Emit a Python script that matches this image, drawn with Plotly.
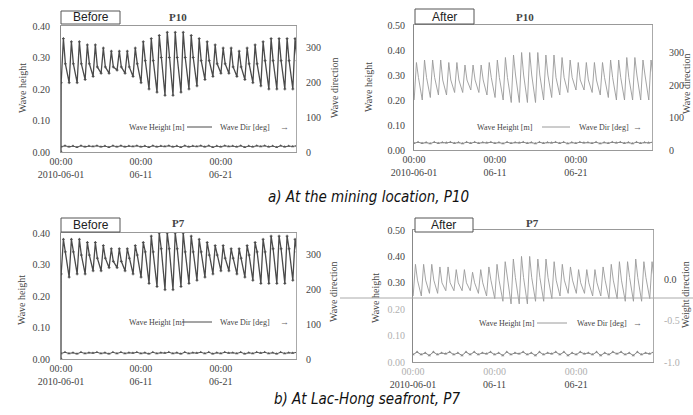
import plotly.graph_objects as go
import pandas as pd

W, H = 693, 415
def fx(x): return x / W
def fy(y): return 1 - y / H

# ---------------- data ----------------
tick_dates = ["2010-06-01", "2010-06-11", "2010-06-21"]
tick_text = ["00:00<br>2010-06-01", "00:00<br>06-11", "00:00<br>06-21"]

# P10 before (daily peak / secondary plateau / trough of wave height, m)
p10b_peak = [0.36,0.35,0.35,0.34,0.34,0.33,0.32,0.32,0.32,0.33,0.35,0.36,0.37,0.38,0.38,
             0.38,0.37,0.36,0.35,0.34,0.33,0.33,0.32,0.33,0.34,0.35,0.36,0.36,0.36,0.36]
p10b_plat = [0.28,0.28,0.28,0.28,0.27,0.27,0.27,0.27,0.27,0.28,0.29,0.29,0.30,0.30,0.30,
             0.30,0.30,0.29,0.29,0.28,0.28,0.27,0.27,0.28,0.28,0.29,0.29,0.29,0.29,0.29]
p10b_trough = [0.22,0.22,0.22,0.23,0.24,0.25,0.25,0.26,0.25,0.24,0.22,0.20,0.19,0.18,0.18,
               0.19,0.20,0.21,0.23,0.24,0.25,0.25,0.24,0.23,0.22,0.21,0.20,0.20,0.20,0.20,0.21]
p10b_dir = [15,18,15,17,14,18,15,17,16,18,15,17,14,18,15,18,15,17,16,18,15,17,14,18,15,17,16,18,15,17,
            14,18,15,17,16,18,15,18,14,17,15,18,16,17,15,18,14,17,15,18,16,18,15,17,14,18,15,17,16,18,15]

# P10 after
p10a_peak = [0.35,0.36,0.36,0.36,0.35,0.35,0.34,0.34,0.34,0.35,0.36,0.37,0.38,0.39,0.39,
             0.39,0.38,0.38,0.37,0.36,0.35,0.35,0.35,0.35,0.36,0.36,0.37,0.37,0.36,0.36]
p10a_plat = [0.29,0.29,0.29,0.28,0.28,0.28,0.28,0.28,0.28,0.29,0.29,0.29,0.30,0.30,0.30,
             0.30,0.30,0.29,0.29,0.29,0.28,0.28,0.28,0.29,0.29,0.29,0.29,0.30,0.30,0.29]
p10a_trough = [0.20,0.20,0.21,0.22,0.22,0.23,0.23,0.24,0.23,0.22,0.21,0.20,0.19,0.19,0.19,
               0.19,0.20,0.21,0.22,0.23,0.24,0.24,0.23,0.22,0.21,0.20,0.20,0.20,0.20,0.20,0.20]
p10a_dir = [21,24,21,23,20,24,21,23,22,24,21,23,20,24,21,24,21,23,22,24,21,23,20,24,21,23,22,24,21,23,
            20,24,21,23,22,24,21,24,20,23,21,24,22,23,21,24,20,23,21,24,22,24,21,23,20,24,21,23,22,24,21]

# P7 before
p7b_peak = [0.38,0.38,0.38,0.37,0.37,0.36,0.35,0.35,0.35,0.36,0.37,0.39,0.40,0.40,0.40,
            0.40,0.39,0.38,0.37,0.36,0.36,0.35,0.35,0.36,0.37,0.38,0.39,0.39,0.39,0.38]
p7b_plat = [0.34,0.34,0.33,0.33,0.32,0.32,0.31,0.31,0.32,0.33,0.34,0.34,0.35,0.35,0.35,
            0.34,0.34,0.34,0.33,0.33,0.32,0.32,0.32,0.33,0.34,0.34,0.35,0.35,0.35,0.34]
p7b_trough = [0.27,0.26,0.27,0.27,0.28,0.28,0.29,0.29,0.28,0.27,0.26,0.24,0.23,0.22,0.22,
              0.23,0.24,0.25,0.26,0.27,0.28,0.28,0.27,0.26,0.25,0.24,0.24,0.24,0.24,0.25,0.26]
p7b_dir = [16,19,16,18,15,19,16,18,17,19,16,18,15,19,16,19,16,18,17,19,16,18,15,19,16,18,17,19,16,18,
           15,19,16,18,17,19,16,19,15,18,16,19,17,18,16,19,15,18,16,19,17,19,16,18,15,19,16,18,17,19,16]

# P7 after
p7a_peak = [0.37,0.37,0.37,0.36,0.36,0.35,0.35,0.34,0.35,0.36,0.37,0.38,0.39,0.40,0.40,
            0.39,0.39,0.38,0.37,0.36,0.35,0.35,0.35,0.36,0.37,0.38,0.38,0.39,0.38,0.38]
p7a_plat = [0.31,0.31,0.31,0.30,0.30,0.30,0.30,0.30,0.30,0.31,0.31,0.32,0.32,0.32,0.32,
            0.32,0.32,0.31,0.31,0.31,0.30,0.30,0.30,0.31,0.31,0.31,0.32,0.32,0.32,0.31]
p7a_trough = [0.25,0.25,0.26,0.26,0.27,0.27,0.27,0.27,0.26,0.25,0.24,0.23,0.22,0.22,0.22,
              0.23,0.23,0.24,0.25,0.26,0.26,0.26,0.25,0.25,0.24,0.24,0.23,0.23,0.23,0.24,0.24]
p7a_dir = [-0.91,-0.88,-0.91,-0.89,-0.92,-0.88,-0.91,-0.89,-0.90,-0.88,-0.91,-0.89,-0.92,-0.88,-0.91,
           -0.88,-0.91,-0.89,-0.90,-0.88,-0.91,-0.89,-0.92,-0.88,-0.91,-0.89,-0.90,-0.88,-0.91,-0.89,
           -0.92,-0.88,-0.91,-0.89,-0.90,-0.88,-0.91,-0.88,-0.92,-0.89,-0.91,-0.88,-0.90,-0.89,-0.91,
           -0.88,-0.92,-0.89,-0.91,-0.88,-0.90,-0.88,-0.91,-0.89,-0.92,-0.88,-0.91,-0.89,-0.90,-0.88,-0.91]

base = pd.Timestamp("2010-06-01")

def build_height(peak, plat, trough, start_zero):
    t, v = [], []
    if start_zero:
        t.append(base); v.append(0.0)
    for d in range(len(peak)):
        t += [base + pd.Timedelta(days=d + 0.02), base + pd.Timedelta(days=d + 0.3),
              base + pd.Timedelta(days=d + 0.55)]
        v += [trough[d], peak[d], plat[d]]
    t.append(base + pd.Timedelta(days=len(peak))); v.append(trough[len(peak)])
    return t, v

def build_dir(vals):
    return [base + pd.Timedelta(hours=12 * k) for k in range(len(vals))], vals

SERIF = "Liberation Serif"
SANS = "Liberation Sans"
NARROW = "Liberation Sans Narrow, DejaVu Sans Condensed, Roboto Condensed, Liberation Sans, sans-serif"

def faded(s):
    return '<span style="color:#b0b0b0">' + s + '</span>'

panels = [
    dict(box=(61, 296, 26, 152), peak=p10b_peak, plat=p10b_plat, trough=p10b_trough, dirv=p10b_dir,
         zero=True, color="#4a4a4a", lw=1.3, mk=2, lrange=[0, 0.40], lticks=[0, 0.1, 0.2, 0.3, 0.4],
         ltext=None, rrange=[0, 362], rticks=[0, 100, 200, 300], rtext=None, lstand=8, rstand=7,
         xtext=tick_text,
         tag="Before", tagbox=(61, 120, 11, 24), title="P10", title_xy=(178, 17),
         ltitle=("Wave height", 22, 88), rtitle=("Wave direction", 334, 88),
         leg=(127, 127, 187, 212, 218, 284)),
    dict(box=(414, 652, 25, 150), peak=p10a_peak, plat=p10a_plat, trough=p10a_trough, dirv=p10a_dir,
         zero=False, color="#9a9a9a", lw=0.9, mk=0, lrange=[0, 0.50], lticks=[0, 0.1, 0.2, 0.3, 0.4, 0.5],
         ltext=None, rrange=[0, 385], rticks=[0, 100, 200, 300], rtext=None, lstand=6, rstand=14,
         xtext=tick_text,
         tag="After", tagbox=(415, 474, 9, 24), title="P10", title_xy=(525, 17),
         ltitle=("Wave height", 368, 87), rtitle=("Wave direction", 686, 84),
         leg=(475, 127, 542, 570, 577, 637)),
    dict(box=(61, 296, 233, 359), peak=p7b_peak, plat=p7b_plat, trough=p7b_trough, dirv=p7b_dir,
         zero=True, color="#4a4a4a", lw=1.3, mk=2, lrange=[0, 0.40], lticks=[0, 0.1, 0.2, 0.3, 0.4],
         ltext=None, rrange=[0, 360], rticks=[0, 100, 200, 300], rtext=None, lstand=8, rstand=7,
         xtext=tick_text,
         tag="Before", tagbox=(61, 120, 218, 232), title="P7", title_xy=(178, 223),
         ltitle=("Wave height", 21, 300), rtitle=("Wave direction", 333, 292),
         leg=(127, 322, 182, 212, 218, 284)),
    dict(box=(413, 653, 230, 362), peak=p7a_peak, plat=p7a_plat, trough=p7a_trough, dirv=p7a_dir,
         zero=False, color="#9a9a9a", lw=0.9, mk=0, lrange=[0, 0.50], lticks=[0, 0.1, 0.2, 0.3, 0.4, 0.5],
         ltext=[faded("0.00"), faded("0.10"), faded("0.20"), "0.30", "0.40", "0.50"],
         rrange=[-1.0, 0.6], rticks=[-1.0, -0.5, 0.0], rtext=[faded("-1.0"), faded("-0.5"), "0.0"],
         lstand=5, rstand=8,
         xtext=[faded("00:00") + "<br>2010-06-01", faded("00:00") + "<br>06-11",
                faded("00:00") + "<br>06-21"],
         tag="After", tagbox=(415, 473, 218, 232), title="P7", title_xy=(532, 223),
         ltitle=("Wave height", 375, 298), rtitle=("Weight direction", 685, 295),
         leg=(477, 323, 537, 567, 575, 637)),
]

fig = go.Figure()
layout = dict(width=W, height=H, margin=dict(l=0, r=0, t=0, b=0, autoexpand=False), showlegend=False,
              paper_bgcolor="white", plot_bgcolor="white")
annotations, shapes = [], []

def ann(text, x, y, font, xanchor="center", **kw):
    annotations.append(dict(text=text, x=fx(x), y=fy(y), xref="paper", yref="paper",
                            xanchor=xanchor, yanchor="middle", showarrow=False, font=font, **kw))

for i, p in enumerate(panels, start=1):
    x0, x1, y0, y1 = p["box"]
    xid = "x" if i == 1 else f"x{i}"
    yl = 2 * i - 1
    yr = 2 * i
    ylid = "y" if yl == 1 else f"y{yl}"
    yrid = f"y{yr}"
    xkey = "xaxis" if i == 1 else f"xaxis{i}"
    ylkey = "yaxis" if yl == 1 else f"yaxis{yl}"
    yrkey = f"yaxis{yr}"
    xdom = [fx(x0), fx(x1)]
    ydom = [fy(y1), fy(y0)]
    tick_font = dict(family=SERIF, size=10, color="#444")

    layout[xkey] = dict(domain=xdom, anchor=ylid, type="date", automargin=False,
                        range=["2010-06-01 00:00", "2010-06-30 10:00"],
                        tickvals=tick_dates, ticktext=p["xtext"], ticks="", showgrid=False,
                        zeroline=False, showline=True, linecolor="#999", linewidth=1, mirror=True,
                        tickfont=dict(family=SERIF, size=10, color="#444"), ticklabelstandoff=0)
    layout[ylkey] = dict(domain=ydom, anchor=xid, range=p["lrange"], tickvals=p["lticks"],
                         automargin=False,
                         ticktext=p["ltext"] or ["%.2f" % v for v in p["lticks"]], ticks="",
                         showgrid=False,
                         zeroline=False, showline=True, linecolor="#888", linewidth=1.2,
                         tickfont=tick_font, ticklabelstandoff=p["lstand"])
    ry = dict(domain=ydom, anchor=xid, overlaying=ylid, side="right", range=p["rrange"],
              automargin=False,
              tickvals=p["rticks"], ticks="", showgrid=False, zeroline=False, showline=True,
              linecolor="#aaa", linewidth=1, tickfont=tick_font, ticklabelstandoff=p["rstand"])
    if p["rtext"]:
        ry["ticktext"] = p["rtext"]
    layout[yrkey] = ry

    t, v = build_height(p["peak"], p["plat"], p["trough"], p["zero"])
    mode = "lines+markers" if p["mk"] else "lines"
    fig.add_trace(go.Scatter(x=t, y=v, xaxis=xid, yaxis=ylid, mode=mode,
                             line=dict(color=p["color"], width=p["lw"]),
                             marker=dict(symbol="cross-thin", size=p["mk"] or 1,
                                         line=dict(color=p["color"], width=1))))
    td, vd = build_dir(p["dirv"])
    fig.add_trace(go.Scatter(x=td, y=vd, xaxis=xid, yaxis=yrid, mode="lines+markers",
                             line=dict(color="#555" if p["mk"] else "#888", width=1),
                             marker=dict(symbol="triangle-up", size=3,
                                         color="#555" if p["mk"] else "#888")))

    # tag box
    bx0, bx1, by0, by1 = p["tagbox"]
    shapes.append(dict(type="rect", xref="paper", yref="paper", x0=fx(bx0), x1=fx(bx1),
                       y0=fy(by1), y1=fy(by0), line=dict(color="#555", width=1),
                       fillcolor="white", layer="above"))
    ann(p["tag"], (bx0 + bx1) / 2, (by0 + by1) / 2, dict(family=SANS, size=12, color="#222"))
    ann("<b>" + p["title"] + "</b>", p["title_xy"][0], p["title_xy"][1],
        dict(family=SERIF, size=11, color="#444"))
    for (txt, ax, ay) in (p["ltitle"], p["rtitle"]):
        ann(txt, ax, ay, dict(family=SERIF, size=10, color="#444"), textangle=-90)
    # in-plot legend
    lx, ly, lx0, lx1, lx2, lx3 = p["leg"]
    leg_font = dict(family=SERIF, size=8, color="#444")
    ann("Wave Height [m]", lx, ly, leg_font, xanchor="left")
    shapes.append(dict(type="line", xref="paper", yref="paper", x0=fx(lx0), x1=fx(lx1),
                       y0=fy(ly), y1=fy(ly), line=dict(color=p["color"], width=1)))
    ann("Wave Dir [deg]", lx2, ly, leg_font, xanchor="left")
    ann("→", lx3, ly, dict(family=SERIF, size=9, color="#666"))

# scan artifact line in the last panel
shapes.append(dict(type="line", xref="paper", yref="paper", x0=fx(340), x1=fx(693),
                   y0=fy(298), y1=fy(298), line=dict(color="#aaa", width=1)))

cap_font = dict(family=NARROW, size=15, color="#111")
ann("<i>a) At the mining location, P10</i>", 368, 197, cap_font)
ann("<i>b) At Lac-Hong seafront, P7</i>", 367, 399, cap_font)

layout["annotations"] = annotations
layout["shapes"] = shapes
fig.update_layout(**layout)
fig.write_html("out.html")
